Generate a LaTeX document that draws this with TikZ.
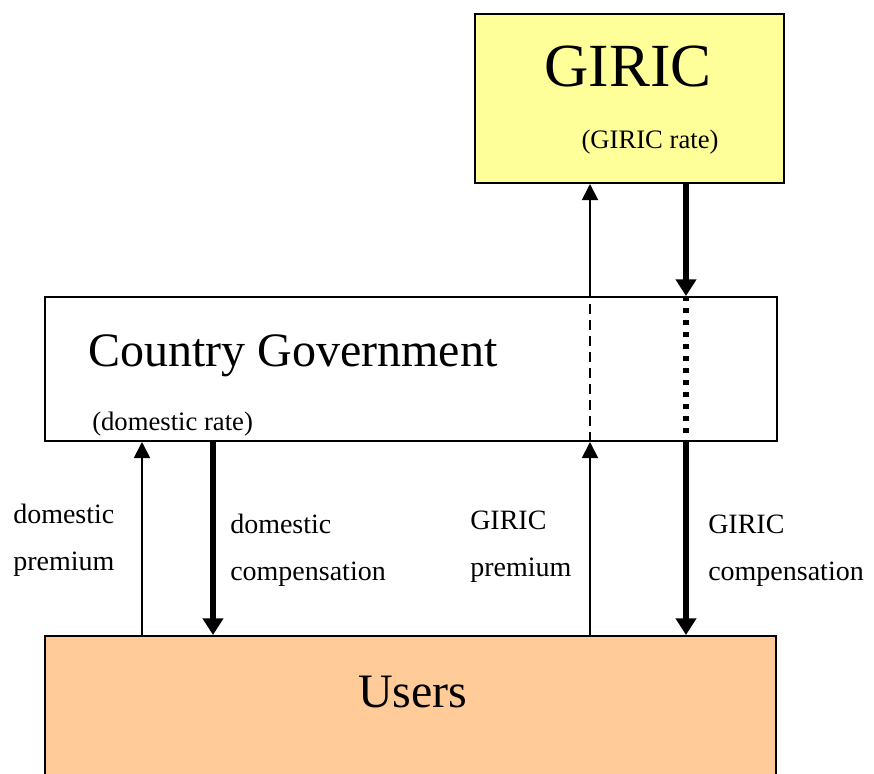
\documentclass[tikz,border=0pt]{standalone}
\usepackage{fontspec}
\setmainfont{Liberation Serif}
\usetikzlibrary{arrows.meta}
\definecolor{giricyellow}{RGB}{255,255,153}
\definecolor{usersorange}{RGB}{255,204,153}

\begin{document}
\begin{tikzpicture}[x=0.75pt, y=-0.75pt,
    box/.style={draw=black, line width=1.5pt, inner sep=0pt},
    title/.style={inner sep=0pt, font=\fontsize{36}{40}\selectfont},
    rate/.style={inner sep=0pt, font=\fontsize{20}{24}\selectfont},
    label/.style={anchor=base west, inner sep=0pt, align=left, font=\fontsize{21}{35}\selectfont},
    flow/.style={line width=1.4pt, -{Triangle[length=12pt, width=12pt]}},
    bigflow/.style={line width=4.5pt, -{Triangle[length=12.5pt, width=15pt]}}]
    \clip (0,0) rectangle (874,774);

    \node[box, fill=giricyellow, minimum width=231.75pt, minimum height=126.75pt] (giric) at (629.5,98.5) {};
    \node[box, fill=white, minimum width=549pt, minimum height=108pt] (gov) at (411,369) {};
    \node[box, fill=usersorange, minimum width=548.25pt, minimum height=135pt] (users) at (410.5,726) {};

    \node[title, anchor=base, font=\fontsize{46}{50}\selectfont] (giricname) at (628,87) {GIRIC};
    \node[rate, anchor=base] (giricrate) at (650,148) {(GIRIC rate)};
    \node[title, anchor=base west] (govname) at (88,366) {Country Government};
    \node[rate, anchor=base west] (govrate) at (92,430) {(domestic rate)};
    \node[title, anchor=base west] (usersname) at (358,707) {Users};

    \coordinate (xdp) at (142,0);
    \coordinate (xdc) at (213,0);
    \coordinate (xgp) at (590,0);
    \coordinate (xgc) at (686,0);

    % domestic flows
    \draw[flow] (users.north -| xdp) -- (gov.south -| xdp);
    \draw[bigflow] (gov.south -| xdc) -- (users.north -| xdc);

    % GIRIC flows, passing through the government
    \draw[flow] (users.north -| xgp) -- (gov.south -| xgp);
    \draw[line width=1.4pt, dash pattern=on 7.5pt off 4.5pt] (gov.south -| xgp) -- (gov.north -| xgp);
    \draw[flow] (gov.north -| xgp) -- (giric.south -| xgp);
    \draw[bigflow] (giric.south -| xgc) -- (gov.north -| xgc);
    \draw[line width=4.5pt, dash pattern=on 3.75pt off 5.25pt] (gov.north -| xgc) -- (gov.south -| xgc);
    \draw[bigflow] (gov.south -| xgc) -- (users.north -| xgc);

    % labels (base is the last line)
    \node[label] (dplabel) at (13,570) {domestic\\premium};
    \node[label] (dclabel) at (230,580) {domestic\\compensation};
    \node[label] (gplabel) at (470,576) {GIRIC\\premium};
    \node[label] (gclabel) at (708,580) {GIRIC\\compensation};
\end{tikzpicture}
\end{document}
